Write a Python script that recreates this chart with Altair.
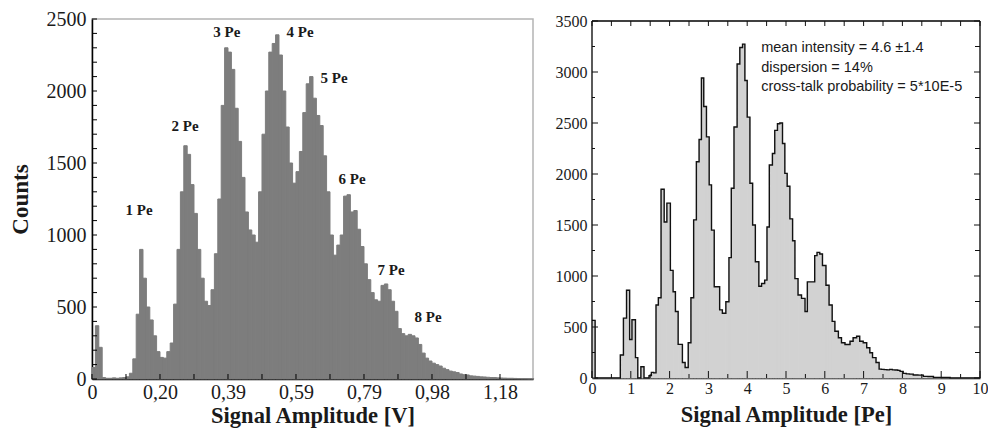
import altair as alt
import pandas as pd

# ---------------- left panel data (Signal amplitude in V) ----------------
left_bin_width = 1.18 / 120
left_counts = [
    80, 370, 220, 10, 5, 5, 8, 5, 8, 10,
    15, 40, 140, 450, 900, 700, 500, 410, 300, 190,
    150, 145, 190, 250, 520, 900, 1300, 1620, 1560, 1350,
    1150, 900, 700, 540, 510, 620, 870, 1250, 1900, 2300,
    2270, 2150, 1880, 1650, 1400, 1160, 1035, 1000, 950, 1300,
    1700, 2000, 2270, 2330, 2390, 2250, 2000, 1750, 1500, 1360,
    1440, 1580, 1850, 2050, 2100, 1950, 1830, 1760, 1550, 1300,
    1000, 860, 930, 1000, 1270, 1280, 1160, 1170, 1040, 920,
    800, 690, 600, 550, 540, 650, 660, 620, 540, 470,
    350, 315, 300, 310, 300, 285, 240, 180, 145, 125,
    110, 100, 90, 75, 65, 55, 50, 45, 35, 30,
    28, 22, 20, 18, 15, 14, 12, 10, 10, 8,
    7, 6, 5, 5, 4, 3, 2, 2, 1, 1,
]
left_x_ticks = [0, 0.19667, 0.39333, 0.59, 0.78667, 0.98333, 1.18]
left_x_labels = ["0", "0,20", "0,39", "0,59", "0,79", "0,98", "1,18"]
left_y_ticks = [0, 500, 1000, 1500, 2000, 2500]
left_x_max = 1.2755

peak_labels = ["1 Pe", "2 Pe", "3 Pe", "4 Pe", "5 Pe", "6 Pe", "7 Pe", "8 Pe"]
peak_x = [0.136, 0.269, 0.390, 0.602, 0.700, 0.752, 0.865, 0.972]
peak_y = [1171, 1756, 2410, 2410, 2087, 1391, 758, 434]

# ---------------- right panel data (Signal amplitude in Pe) ----------------
right_edges = [
    0.00, 0.08, 0.73, 0.81, 0.89, 0.97, 1.03, 1.12, 1.18, 1.26,
    1.34, 1.47, 1.53, 1.59, 1.65, 1.71, 1.78, 1.86, 1.93, 2.02,
    2.09, 2.15, 2.22, 2.33, 2.40, 2.48, 2.55, 2.62, 2.69, 2.76,
    2.82, 2.88, 2.95, 3.02, 3.08, 3.15, 3.29, 3.36, 3.45, 3.53,
    3.59, 3.66, 3.74, 3.81, 3.88, 3.94, 4.00, 4.07, 4.14, 4.21,
    4.30, 4.37, 4.45, 4.51, 4.57, 4.65, 4.71, 4.78, 4.84, 4.91,
    4.97, 5.03, 5.10, 5.17, 5.23, 5.31, 5.40, 5.49, 5.55, 5.74,
    5.80, 5.87, 5.94, 6.03, 6.11, 6.19, 6.26, 6.35, 6.43, 6.52,
    6.65, 6.73, 6.82, 6.90, 6.99, 7.08, 7.16, 7.23, 7.32, 7.40,
    7.46, 7.53, 7.60, 7.67, 7.74, 7.81, 7.88, 7.94, 8.02, 8.10,
    8.18, 8.28, 8.40, 8.54, 8.66, 8.80, 9.00, 9.23,
]
right_counts = [
    565, 0, 226, 587, 861, 377, 571, 200, 0, 110,
    0, 23, 55, 50, 716, 787, 1850, 1530, 1714, 1055,
    845, 652, 330, 152, 103, 345, 787, 1550, 2120, 2338,
    2941, 2662, 2364, 1893, 1450, 894, 668, 635, 748, 1180,
    1860, 2461, 3078, 3240, 3273, 2916, 2558, 1909, 1500, 1140,
    900, 926, 960, 1480, 2088, 2201, 2428, 2493, 2500, 2299,
    2006, 1880, 1560, 1345, 974, 813, 781, 652, 942, 1200,
    1232, 1216, 1103, 910, 716, 555, 458, 394, 345, 329,
    361, 394, 410, 361, 345, 297, 248, 200, 152, 87,
    85, 82, 80, 85, 80, 78, 75, 65, 45, 40,
    38, 30, 28, 16, 14, 6, 5, 0,
]
right_end = 10.0
right_x_ticks = [0, 1, 2, 3, 4, 5, 6, 7, 8, 9, 10]
right_y_ticks = [0, 500, 1000, 1500, 2000, 2500, 3000, 3500]
right_y_top = 3500

info_lines = ["mean intensity = 4.6 \u00b11.4", "dispersion = 14%",
              "cross-talk probability = 5*10E-5"]
info_x = [4.36, 4.36, 4.36]
info_y = [3235, 3039, 2853]

SERIF = "Liberation Serif"
SANS = "Liberation Sans"
INK = "#1a1a1a"

# ---------------- left chart ----------------
W1, H1 = 441, 360
left_df = pd.DataFrame({
    "x0": [i * left_bin_width for i in range(len(left_counts))],
    "x1": [(i + 1) * left_bin_width for i in range(len(left_counts))],
    "count": left_counts,
})
xs1 = alt.Scale(domain=[0, left_x_max], nice=False, zero=False)
ys1 = alt.Scale(domain=[0, 2500], nice=False)

label_expr = " : ".join(
    [f"abs(datum.value - {v}) < 0.001 ? '{l}'" for v, l in zip(left_x_ticks, left_x_labels)]
) + " : ''"

ax1x = alt.Axis(
    values=left_x_ticks, labelExpr=label_expr, title="Signal Amplitude [V]",
    ticks=False, grid=False, domainColor="#000", domainWidth=1.5,
    labelFont=SERIF, labelFontSize=20, labelColor=INK, labelPadding=3,
    titleFont=SERIF, titleFontSize=22.5, titleFontWeight="bold", titleColor=INK,
    titlePadding=2, labelFlush=False)
ax1y = alt.Axis(
    values=left_y_ticks, format="d", title="Counts", ticks=False, grid=False,
    domainColor="#000", domainWidth=1.5,
    labelFont=SERIF, labelFontSize=20, labelColor=INK, labelPadding=6,
    titleFont=SERIF, titleFontSize=23, titleFontWeight="bold", titleColor=INK,
    titlePadding=14)

left_bars = alt.Chart(left_df).mark_rect(
    color="#7d7d7d", stroke="#7d7d7d", strokeWidth=1
).encode(
    x=alt.X("x0:Q", scale=xs1, axis=ax1x),
    x2="x1:Q",
    y=alt.Y("count:Q", scale=ys1, axis=ax1y),
    y2=alt.datum(0),
)

left_ytick_df = pd.DataFrame({"v": list(range(0, 2501, 100))})
left_yticks = alt.Chart(left_ytick_df).mark_rule(color="#000", strokeWidth=1).encode(
    y=alt.Y("v:Q", scale=ys1, axis=ax1y), x=alt.value(0), x2=alt.value(5))

step = left_x_ticks[1] / 2
left_xtick_df = pd.DataFrame({"v": [k * step for k in range(13)]})
left_xticks = alt.Chart(left_xtick_df).mark_rule(color="#000", strokeWidth=1).encode(
    x=alt.X("v:Q", scale=xs1, axis=ax1x), y=alt.value(H1), y2=alt.value(H1 - 5))

peak_df = pd.DataFrame({"t": peak_labels, "x": peak_x, "y": peak_y})
left_text = alt.Chart(peak_df).mark_text(
    font=SERIF, fontSize=15, fontWeight="bold", color=INK
).encode(x=alt.X("x:Q", scale=xs1, axis=ax1x), y=alt.Y("y:Q", scale=ys1, axis=ax1y), text="t:N")

left_chart = alt.layer(left_bars, left_yticks, left_xticks, left_text).properties(
    width=W1, height=H1, view=alt.ViewBackground(stroke="#b4b4b4", strokeWidth=1.5))

# ---------------- right chart ----------------
W2, H2 = 388, 359
y2_max = right_y_top * H2 / 357.0
xs2 = alt.Scale(domain=[0, 10], nice=False, zero=False)
ys2 = alt.Scale(domain=[0, y2_max], nice=False)
px = y2_max / H2  # counts per pixel

right_df = pd.DataFrame({
    "x0": right_edges,
    "x1": right_edges[1:] + [right_end],
    "count": right_counts,
})
step_df = pd.DataFrame({
    "x": right_edges + [right_end],
    "count": right_counts + [0],
})

ax2x = alt.Axis(
    values=right_x_ticks, title="Signal Amplitude [Pe]", ticks=False, grid=False,
    domainColor="#000", domainWidth=1.3,
    labelFont=SERIF, labelFontSize=16, labelColor=INK, labelPadding=2,
    titleFont=SERIF, titleFontSize=22.5, titleFontWeight="bold", titleColor=INK,
    titlePadding=7, labelFlush=False)
ax2y = alt.Axis(
    values=right_y_ticks, format="d", title=None, ticks=False, grid=False,
    domain=False,
    labelFont=SERIF, labelFontSize=16, labelColor=INK, labelPadding=5)

right_fill = alt.Chart(right_df).mark_rect(
    color="#d2d2d2", stroke="#d2d2d2", strokeWidth=1
).encode(
    x=alt.X("x0:Q", scale=xs2, axis=ax2x),
    x2="x1:Q",
    y=alt.Y("count:Q", scale=ys2, axis=ax2y),
    y2=alt.datum(0),
)
right_line = alt.Chart(step_df).mark_line(
    interpolate="step-after", color="#111", strokeWidth=1.4
).encode(x=alt.X("x:Q", scale=xs2, axis=ax2x), y=alt.Y("count:Q", scale=ys2, axis=ax2y))

# frame (left, right, top) in data coordinates
frame_df = pd.DataFrame({
    "xa": [0, 10, 0], "xb": [0, 10, 10],
    "ya": [0, 0, right_y_top], "yb": [right_y_top, right_y_top, right_y_top],
})
right_frame = alt.Chart(frame_df).mark_rule(color="#000", strokeWidth=1.3).encode(
    x=alt.X("xa:Q", scale=xs2, axis=ax2x), x2="xb:Q",
    y=alt.Y("ya:Q", scale=ys2, axis=ax2y), y2="yb:Q")

rx_major = pd.DataFrame({"v": right_x_ticks})
rx_minor = pd.DataFrame({"v": [t + 0.5 for t in right_x_ticks[:-1]]})
ry_major = pd.DataFrame({"v": right_y_ticks})
ry_minor = pd.DataFrame({"v": [t + 250 for t in right_y_ticks[:-1]]})


def xt(df, ya, yb):
    return alt.Chart(df).mark_rule(color="#111", strokeWidth=1).encode(
        x=alt.X("v:Q", scale=xs2, axis=ax2x),
        y=alt.Y("a:Q", scale=ys2, axis=ax2y), y2="b:Q"
    ).transform_calculate(a=str(ya), b=str(yb))


def yt(df, x0, x1):
    return alt.Chart(df).mark_rule(color="#111", strokeWidth=1).encode(
        y=alt.Y("v:Q", scale=ys2, axis=ax2y), x=alt.value(x0), x2=alt.value(x1))


right_ticks = [
    xt(rx_major, 0, 7 * px), xt(rx_minor, 0, 4 * px),
    xt(rx_major, right_y_top, right_y_top - 5 * px),
    xt(rx_minor, right_y_top, right_y_top - 5 * px),
    yt(ry_major, 0, 6), yt(ry_minor, 0, 3),
    yt(ry_major, W2, W2 - 6), yt(ry_minor, W2, W2 - 5),
]

info_df = pd.DataFrame({"t": info_lines, "x": info_x, "y": info_y})
right_text = alt.Chart(info_df).mark_text(
    font=SANS, fontSize=14.5, color=INK, align="left", baseline="middle"
).encode(x=alt.X("x:Q", scale=xs2, axis=ax2x), y=alt.Y("y:Q", scale=ys2, axis=ax2y), text="t:N")

right_chart = alt.layer(right_fill, right_line, right_frame, *right_ticks, right_text).properties(
    width=W2, height=H2,
    view=alt.ViewBackground(stroke="transparent", strokeWidth=0))

chart = alt.hconcat(left_chart, right_chart, spacing=19).properties(
    padding=0, background="white"
)

chart.save("out.html", embed_options={"renderer": "svg", "actions": False})
